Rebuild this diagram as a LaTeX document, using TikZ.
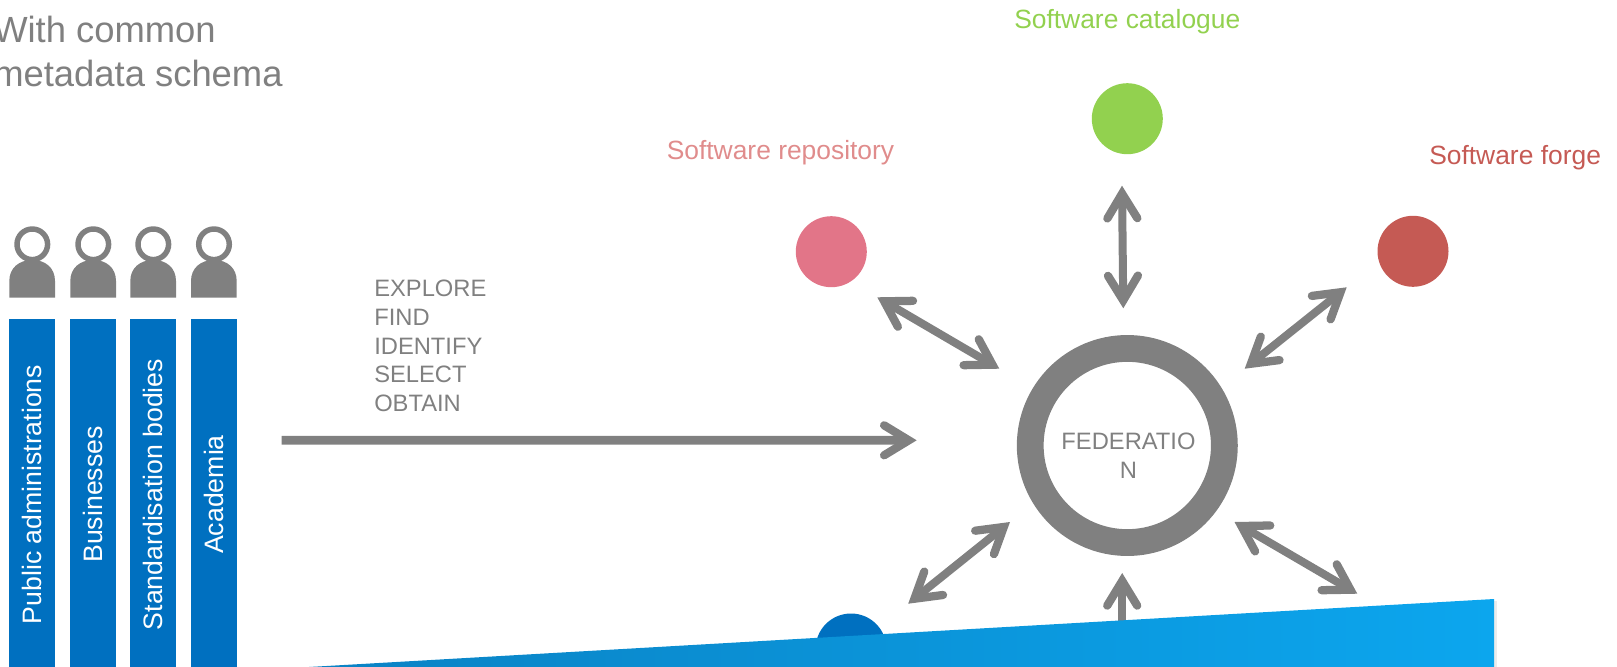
\documentclass[tikz,border=0pt]{standalone}
\usepackage{fontspec}
\setmainfont{Liberation Sans}
\usetikzlibrary{calc}
\usetikzlibrary{arrows.meta}
\definecolor{linegray}{HTML}{808080}
\definecolor{barblue}{HTML}{0070C0}
\definecolor{catgreen}{HTML}{92D14F}
\definecolor{repopink}{HTML}{E27588}
\definecolor{repotext}{HTML}{E08C8C}
\definecolor{forgered}{HTML}{C55A54}
\definecolor{wedgedark}{HTML}{0A82C4}
\definecolor{wedgelight}{HTML}{0CA6EE}

\begin{document}
\begin{tikzpicture}[x=0.75pt,y=-0.75pt,>={Straight Barb[length=18.5pt,width=22.5pt,line width=6.2pt,line cap=round,line join=miter]},
    barnode/.style={fill=barblue,text=white,rotate=90,minimum width=263.25pt,minimum height=34.5pt,inner sep=0pt,font=\fontsize{20}{24}\selectfont},
    dotnode/.style={circle,minimum size=53.25pt,inner sep=0pt},
    labelnode/.style={anchor=base west,inner sep=0pt,font=\fontsize{19.8}{24}\selectfont},
    smalltext/.style={text=linegray,inner sep=0pt,font=\fontsize{17.8}{21.5}\selectfont},
    dualarrow/.style={<->,draw=linegray,line width=6pt},
    personhead/.style={draw=linegray,line width=4.1pt,fill=white},
    personbody/.style={fill=linegray}]
    \useasboundingbox (0,0) rectangle (1617,667);
    \node[anchor=north west,align=left,inner sep=0pt,text=linegray,font=\fontsize{27.3}{33}\selectfont] (schema) at (-7,16) {With common\\metadata schema};
    \draw[personhead] (32.3,244.3) circle [radius=15.3];
    \draw[personhead] (93.3,244.3) circle [radius=15.3];
    \draw[personhead] (153.3,244.3) circle [radius=15.3];
    \draw[personhead] (214,244.3) circle [radius=15.3];
    \fill[personbody] (9.3,297.5) -- (9.3,281) .. controls (9.3,268) and (19,260) .. (32.3,260) .. controls (45.6,260) and (55,268) .. (55,281) -- (55,297.5) -- cycle;
    \fill[personbody] (70.3,297.5) -- (70.3,281) .. controls (70.3,268) and (80,260) .. (93.3,260) .. controls (106.6,260) and (116,268) .. (116,281) -- (116,297.5) -- cycle;
    \fill[personbody] (130.3,297.5) -- (130.3,281) .. controls (130.3,268) and (140,260) .. (153.3,260) .. controls (166.6,260) and (176,268) .. (176,281) -- (176,297.5) -- cycle;
    \fill[personbody] (191,297.5) -- (191,281) .. controls (191,268) and (200.7,260) .. (214,260) .. controls (227.3,260) and (236.7,268) .. (236.7,281) -- (236.7,297.5) -- cycle;
    \node[barnode] (public) at (32,494.5) {Public administrations};
    \node[barnode] (business) at (93,494.5) {Businesses};
    \node[barnode] (standard) at (153,494.5) {Standardisation bodies};
    \node[barnode] (academia) at (214,494.5) {Academia};
    \node[smalltext,anchor=north west,align=left] (verbs) at (374,280) {EXPLORE\\FIND\\IDENTIFY\\SELECT\\OBTAIN};
    \node[circle,draw=linegray,line width=20.1pt,minimum size=145.6pt,inner sep=0pt] (federation) at (1127.3,445.5) {};
    \node[smalltext,align=center] (fedtext) at (1128.5,455.5) {FEDERATIO\\N};
    \node[dotnode,fill=catgreen] (catalogue) at (1127.3,118.7) {};
    \node[dotnode,fill=repopink] (repository) at (831.3,251.7) {};
    \node[dotnode,fill=forgered] (forge) at (1413,251.3) {};
    \node[dotnode,fill=barblue] (bluedot) at (851,649) {};
    \node[labelnode,text=catgreen] (cataloguelabel) at (1014,28.3) {Software catalogue};
    \node[labelnode,text=repotext] (repositorylabel) at (666.5,159.3) {Software repository};
    \node[labelnode,text=forgered] (forgelabel) at (1429,164) {Software forge};
    \coordinate (flowstart) at (281.7,440.3);
    \draw[->,draw=linegray,line width=6.5pt] (flowstart) -- ($(federation)+(-210.6,-5.2)$);
    \draw[dualarrow] ($(catalogue)+(-5.3,67)$) -- ($(federation)+(-4,-137.2)$);
    \draw[dualarrow] ($(repository)+(46,45.6)$) -- ($(federation)+(-128,-76.8)$);
    \draw[dualarrow] ($(forge)+(-66.3,36)$) -- ($(federation)+(117.4,-76.8)$);
    \draw[dualarrow] ($(bluedot)+(57.2,-45.3)$) -- ($(federation)+(-117.3,76.5)$);
    \coordinate (lowerright) at (1357.3,593.7);
    \draw[dualarrow] (lowerright) -- ($(federation)+(107.2,76.5)$);
    \coordinate (lowerend) at (1122.2,650);
    \draw[<-,draw=linegray,line width=6pt] ($(federation)+(-5.1,127.5)$) -- (lowerend);
    \coordinate (wedgeleft) at (309,667);
    \coordinate (wedgetop) at (1494,599);
    \coordinate (wedgebase) at (1494,667);
    \fill[gray!15] (1494,601) rectangle (1496.5,667);
    \shade[left color=wedgedark,right color=wedgelight] (wedgeleft) -- (wedgetop) -- (wedgebase) -- cycle;
\end{tikzpicture}
\end{document}
